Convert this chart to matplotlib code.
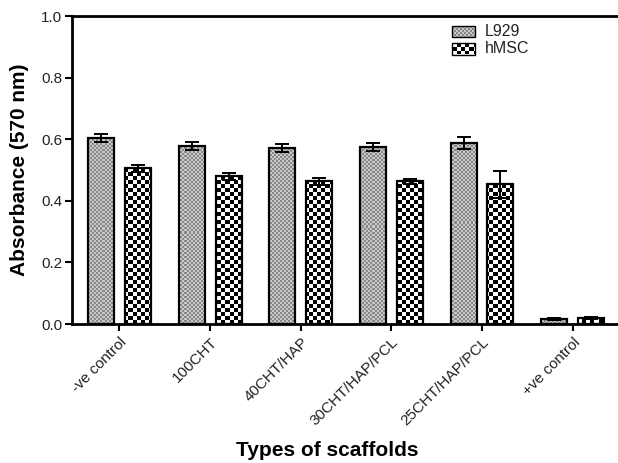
import numpy as np
import matplotlib.pyplot as plt
from matplotlib.colors import ListedColormap
from matplotlib.patches import Rectangle

plt.rcParams['font.family'] = ['Liberation Sans', 'DejaVu Sans']

scaffolds = ["-ve control", "100CHT", "40CHT/HAP", "30CHT/HAP/PCL",
             "25CHT/HAP/PCL", "+ve control"]
l929 = [0.604, 0.578, 0.571, 0.575, 0.588, 0.016]
l929_err = [0.013, 0.013, 0.014, 0.013, 0.020, 0.004]
hmsc = [0.506, 0.480, 0.463, 0.463, 0.453, 0.020]
hmsc_err = [0.011, 0.011, 0.012, 0.009, 0.045, 0.004]

W, H = 618, 463
fig = plt.figure(figsize=(W / 100, H / 100), dpi=100)
ax = fig.add_axes([72 / W, 1 - 324 / H, 546 / W, 308 / H])
ax_w, ax_h = 546, 308


def texture(cell, c1, c2):
    nx = int(round(ax_w / cell))
    ny = int(round(ax_h / cell))
    jj, ii = np.meshgrid(np.arange(nx), np.arange(ny))
    arr = (ii + jj) % 2
    return arr, ListedColormap([c1, c2])


fine = texture(2, '#888888', '#c8c8c8')
checker = texture(4, 'white', 'black')


def fill_with(patch, tex):
    arr, cmap = tex
    im = ax.imshow(arr, cmap=cmap, interpolation='nearest', aspect='auto',
                   extent=[0, 1, 0, 1], transform=ax.transAxes, zorder=1.5)
    im.set_clip_path(patch)


x = np.arange(len(scaffolds))
off = 0.203
width = 0.287

bars1 = ax.bar(x - off, l929, width, facecolor='none', edgecolor='black',
               linewidth=1.6, zorder=2)
bars2 = ax.bar(x + off, hmsc, width, facecolor='none', edgecolor='black',
               linewidth=1.6, zorder=2)
for b in bars1:
    fill_with(b, fine)
for b in bars2:
    fill_with(b, checker)

ax.errorbar(x - off, l929, yerr=l929_err, fmt='none', ecolor='black',
            elinewidth=1.4, capsize=4.7, capthick=1.4, zorder=3)
ax.errorbar(x + off, hmsc, yerr=hmsc_err, fmt='none', ecolor='black',
            elinewidth=1.4, capsize=4.7, capthick=1.4, zorder=3)

# legend drawn by hand so the swatches carry the same textures
for yc, tex, name in [(0.951, fine, "L929"), (0.893, checker, "hMSC")]:
    r = Rectangle((0.696, yc - 0.018), 0.042, 0.036, transform=ax.transAxes,
                  facecolor='none', edgecolor='black', linewidth=1.0, zorder=4)
    ax.add_patch(r)
    fill_with(r, tex)
    ax.text(0.756, yc, name, transform=ax.transAxes, fontsize=11.5,
            va='center', ha='left', color='#222222')

ax.set_xlim(-0.524, 5.5)
ax.set_ylim(0, 1.0)
ax.set_yticks(np.arange(0, 1.01, 0.2))
ax.set_yticklabels([f"{v:.1f}" for v in np.arange(0, 1.01, 0.2)],
                   fontsize=11, color='#222222')
ax.set_xticks(x)
ax.set_xticklabels(scaffolds, rotation=45, ha='right', va='top',
                   rotation_mode='anchor', fontsize=11, color='#222222')
ax.tick_params(axis='both', direction='out', length=5, width=1.5)
ax.tick_params(axis='y', pad=2)
ax.tick_params(axis='x', pad=3)

for s in ['left', 'bottom', 'top']:
    ax.spines[s].set_linewidth(2)
ax.spines['right'].set_visible(False)

ax.set_ylabel("Absorbance (570 nm)", fontsize=15, fontweight='bold')
ax.yaxis.set_label_coords(-0.078, 0.5)
ax.set_xlabel("Types of scaffolds", fontsize=15, fontweight='bold')
ax.xaxis.set_label_coords(0.467, -0.38)

plt.savefig('out.png', dpi=100)
